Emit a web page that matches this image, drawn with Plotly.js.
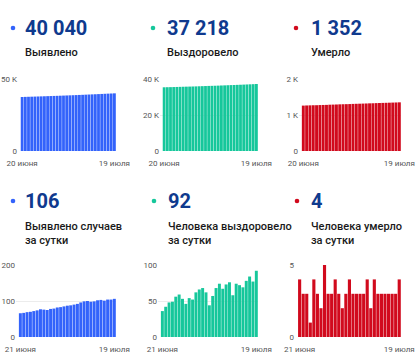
<!DOCTYPE html>
<html>
<head>
<meta charset="utf-8">
<script src="https://cdn.plot.ly/plotly-3.0.1.min.js"></script>
<style>
html,body{margin:0;padding:0;background:#fff;}
#chart{width:418px;height:358px;}
</style>
</head>
<body>
<div id="chart"></div>
<script>
// ---- DATA ----
const topDates = ["20.06","21.06","22.06","23.06","24.06","25.06","26.06","27.06","28.06","29.06","30.06",
  "01.07","02.07","03.07","04.07","05.07","06.07","07.07","08.07","09.07","10.07","11.07","12.07","13.07",
  "14.07","15.07","16.07","17.07","18.07","19.07"];
const bottomDates = ["21.06","22.06","23.06","24.06","25.06","26.06","27.06","28.06","29.06","30.06",
  "01.07","02.07","03.07","04.07","05.07","06.07","07.07","08.07","09.07","10.07","11.07","12.07","13.07",
  "14.07","15.07","16.07","17.07","18.07","19.07"];

const confirmedTotal = [37518,37584,37651,37720,37790,37862,37936,38013,38089,38164,38242,38321,38403,38486,
  38571,38658,38746,38836,38928,39024,39123,39223,39321,39420,39522,39625,39726,39830,39934,40040];
const recoveredTotal = [35402,35438,35480,35528,35577,35633,35692,35745,35791,35845,35897,35959,36025,36093,
  36155,36199,36256,36324,36398,36465,36538,36614,36672,36746,36818,36887,36965,37049,37126,37218];
const deathsTotal = [1261,1265,1268,1271,1272,1276,1279,1281,1286,1289,1292,1296,1299,1301,1304,1308,1311,
  1314,1317,1320,1324,1326,1330,1333,1336,1339,1342,1345,1348,1352];

const confirmedDaily = [66,67,69,70,72,74,77,76,75,78,79,82,83,85,87,88,90,92,96,99,100,98,99,102,103,101,104,104,106];
const recoveredDaily = [36,42,48,49,56,59,53,46,54,52,62,66,68,62,44,57,68,74,67,73,76,58,74,72,69,78,84,77,92];
const deathsDaily = [4,3,3,1,4,3,2,5,3,3,4,3,2,3,4,3,3,3,3,4,2,4,3,3,3,3,3,3,4];

const headlineNumbers = ["40 040","37 218","1 352","106","92","4"];
const headlineLabels = ["Выявлено","Выздоровело","Умерло",
  "Выявлено случаев<br>за сутки","Человека выздоровело<br>за сутки","Человека умерло<br>за сутки"];

const topXTickText = ["20 июня","19 июля"];
const bottomXTickText = ["21 июня","19 июля"];

const yTicks1 = [0,50000];   const yTickText1 = ["0","50 K"];
const yTicks2 = [0,20000,40000]; const yTickText2 = ["0","20 K","40 K"];
const yTicks3 = [0,1000,2000];   const yTickText3 = ["0","1 K","2 K"];
const yTicks4 = [0,100,200]; const yTickText4 = ["0","100","200"];
const yTicks5 = [0,50,100];  const yTickText5 = ["0","50","100"];
const yTicks6 = [0,5];       const yTickText6 = ["0","5"];

// ---- STYLE / LAYOUT ----
const W = 418, H = 358;
const px = x => x / W;
const py = y => 1 - y / H;

const BLUE = "#3363fb", GREEN = "#16c79b", RED = "#d10a1d", NAVY = "#0f3a8e";

const panels = [
  {dates: topDates, y: confirmedTotal, color: BLUE, xt: topXTickText, yv: yTicks1, yt: yTickText1, ymax: 50000,
   dom: [18,116], vy: [79,151], dot: [13,28], tx: 24, ny: 28, ly: 53},
  {dates: topDates, y: recoveredTotal, color: GREEN, xt: topXTickText, yv: yTicks2, yt: yTickText2, ymax: 40000,
   dom: [160,258], vy: [79,151], dot: [153,28], tx: 166, ny: 28, ly: 53},
  {dates: topDates, y: deathsTotal, color: RED, xt: topXTickText, yv: yTicks3, yt: yTickText3, ymax: 2000,
   dom: [299,401], vy: [79,151], dot: [296,28], tx: 310, ny: 28, ly: 53},
  {dates: bottomDates, y: confirmedDaily, color: BLUE, xt: bottomXTickText, yv: yTicks4, yt: yTickText4, ymax: 200,
   dom: [16,116], vy: [265,337], dot: [13,201], tx: 24, ny: 201, ly: 233},
  {dates: bottomDates, y: recoveredDaily, color: GREEN, xt: bottomXTickText, yv: yTicks5, yt: yTickText5, ymax: 100,
   dom: [158,258], vy: [265,337], dot: [154,201], tx: 167, ny: 201, ly: 233},
  {dates: bottomDates, y: deathsDaily, color: RED, xt: bottomXTickText, yv: yTicks6, yt: yTickText6, ymax: 5,
   dom: [295,401], vy: [265,337], dot: [297,201], tx: 310, ny: 201, ly: 233}
];

const traces = [];
const layout = {
  width: W, height: H,
  margin: {l:0, r:0, t:0, b:0},
  paper_bgcolor: "#fff", plot_bgcolor: "#fff",
  showlegend: false,
  bargap: 0.12,
  font: {family: "Roboto, 'Noto Sans', sans-serif", color: "#222"},
  annotations: [], shapes: []
};

panels.forEach((p, i) => {
  const k = i === 0 ? "" : String(i + 1);
  traces.push({
    type: "bar", x: p.dates, y: p.y, xaxis: "x" + k, yaxis: "y" + k,
    marker: {color: p.color, line: {width: 0}}, hoverinfo: "x+y"
  });
  const n = p.dates.length;
  layout["xaxis" + k] = {
    domain: [px(p.dom[0]), px(p.dom[1])], anchor: "y" + k, type: "category",
    range: [-1.3, n - 0.5],
    tickvals: [p.dates[0], p.dates[n - 1]], ticktext: p.xt,
    showgrid: false, zeroline: false, showline: false, ticks: "",
    ticklabelstandoff: 6,
    tickfont: {size: 8, color: "#555"}, tickangle: 0, fixedrange: true
  };
  layout["yaxis" + k] = {
    domain: [py(p.vy[1]), py(p.vy[0])], anchor: "x" + k,
    range: [0, p.ymax], tickvals: p.yv, ticktext: p.yt,
    showgrid: true, gridcolor: "#ececec", gridwidth: 1, zeroline: false, showline: false, ticks: "",
    tickfont: {size: 8, color: "#555"}, fixedrange: true
  };
  const r = 2.3;
  layout.shapes.push({
    type: "circle", xref: "paper", yref: "paper",
    x0: px(p.dot[0] - r), x1: px(p.dot[0] + r), y0: py(p.dot[1] + r), y1: py(p.dot[1] - r),
    fillcolor: p.color, line: {width: 0}
  });
  layout.annotations.push({
    xref: "paper", yref: "paper", x: px(p.tx - 1), y: py(p.ny), xanchor: "left", yanchor: "middle",
    text: "<b>" + headlineNumbers[i] + "</b>", showarrow: false,
    font: {size: 20, color: NAVY, family: "Roboto, sans-serif"}
  });
  layout.annotations.push({
    xref: "paper", yref: "paper", x: px(p.tx - 1), y: py(p.ly), xanchor: "left", yanchor: "middle",
    text: headlineLabels[i], showarrow: false, align: "left",
    font: {size: 11, color: "#1a1a1a", family: "Roboto, sans-serif", weight: 500}
  });
});

Plotly.newPlot("chart", traces, layout, {displayModeBar: false, staticPlot: true});
</script>
</body>
</html>
